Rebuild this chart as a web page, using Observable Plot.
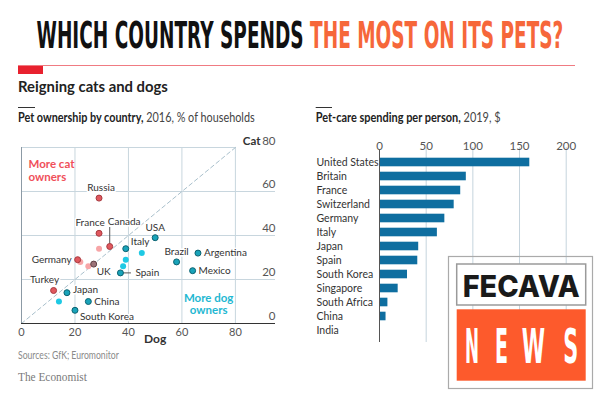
<!DOCTYPE html>
<html><head><meta charset="utf-8">
<script src="https://cdn.jsdelivr.net/npm/d3@7"></script>
<script src="https://cdn.jsdelivr.net/npm/@observablehq/plot@0.6"></script>
<style>
html,body{margin:0;padding:0;background:#fff;}
#root{position:relative;width:600px;height:400px;overflow:hidden;}
#root > svg{position:absolute;}
</style></head><body><div id="root"></div>
<script>
// ---------- DATA ----------
const scatterCountries = ["Russia","France","Canada","","Germany","","","UK","Turkey","Japan","","China","South Korea","Italy","","","Spain","","USA","Brazil","Argentina","Mexico"];
const dogShare = [29,29,33,29,21,22,25,27,12,17,14,25,20,39,39,38,37,45,50,58,66,64];
const catShare = [57,41,35,34,29,28,26,27,15,14,10,10,6,34,29,26,23,32,39,28,32,24];
const scatterGroup = ["cat","cat","cat","catLight","cat","catLight","catLight","even","cat","dog","dogLight","dog","dog","dog","dogLight","dogLight","dog","dogLight","dog","dog","dog","dog"];
const scatterXTicks = [0,20,40,60,80];
const scatterYTicks = [0,20,40,60];

const spendCountries = ["United States","Britain","France","Switzerland","Germany","Italy","Japan","Spain","South Korea","Singapore","South Africa","China","India"];
const spendValues = [161,93,87,80,70,62,42,41,30,20,9,7,0.5];
const spendTicks = [0,50,100,150,200];

// ---------- LAYOUT / STYLE ----------
const FONT = 'Lato,"Liberation Sans",sans-serif';
const labelLayout = {
  "Russia":{dx:2,dy:-10,anchor:"middle"},
  "France":{dx:-9,dy:-11,anchor:"middle"},
  "Canada":{dx:-2,dy:-25,anchor:"start"},
  "Germany":{dx:-6,dy:0,anchor:"end"},
  "UK":{dx:3,dy:8,anchor:"start"},
  "Turkey":{dx:-9,dy:-11,anchor:"middle"},
  "Japan":{dx:6,dy:-3,anchor:"start"},
  "China":{dx:6,dy:0,anchor:"start"},
  "South Korea":{dx:5,dy:6,anchor:"start"},
  "Italy":{dx:5,dy:-7,anchor:"start"},
  "Spain":{dx:15,dy:0,anchor:"start"},
  "USA":{dx:0,dy:-10,anchor:"middle"},
  "Brazil":{dx:0,dy:-10,anchor:"middle"},
  "Argentina":{dx:6,dy:0,anchor:"start"},
  "Mexico":{dx:6,dy:0,anchor:"start"}
};
const groupStyle = {
  catLight:{fill:"#f7a5a7",stroke:"none"},
  dogLight:{fill:"#1ec9e4",stroke:"none"},
  cat:{fill:"#e0585e",stroke:"#a73a40"},
  even:{fill:"#9b7379",stroke:"#5e4147"},
  dog:{fill:"#19a3b9",stroke:"#0b6271"}
};

const scatter = scatterCountries.map((name,i)=>({name, dog:dogShare[i], cat:catShare[i], group:scatterGroup[i]}));
const spend = spendCountries.map((country,i)=>({country, value:spendValues[i]}));

const root = document.getElementById("root");

// ---------- DECOR (titles, notes) ----------
const deco = d3.select(root).append("svg").attr("width",600).attr("height",400).style("left","0px").style("top","0px");
// draws text whose natural width is fitted to `len`, then stretched vertically back to the nominal size (condensed look)
function fitted(x,y,parts,o){
  const t = deco.append("text").attr("x",0).attr("y",0)
    .attr("font-family",o.family||FONT).attr("font-size",o.size);
  parts.forEach(p=>t.append("tspan").attr("fill",p.fill||"#222").attr("font-weight",p.weight||"normal").text(p.text));
  const natural = t.node().getComputedTextLength() || o.len;
  const f = Math.min(1, o.len/natural);
  t.attr("font-size",o.size*f).attr("transform",`translate(${x},${y}) scale(1,${1/f})`);
  return t;
}
fitted(36.5,48,[{text:"WHICH COUNTRY SPENDS ",fill:"#111",weight:"bold"},{text:"THE MOST ON ITS PETS?",fill:"#f6673a",weight:"bold"}],
  {family:'"DejaVu Sans",sans-serif',size:37,len:527});
deco.append("line").attr("x1",18).attr("x2",575).attr("y1",65.5).attr("y2",65.5).attr("stroke","#f07b82").attr("stroke-width",1);
deco.append("rect").attr("x",18).attr("y",66).attr("width",25).attr("height",8).attr("fill","#e8212e");
fitted(18,92,[{text:"Reigning cats and dogs",weight:"bold"}],{size:15,len:150});

deco.append("line").attr("x1",18).attr("x2",35).attr("y1",107.5).attr("y2",107.5).attr("stroke","#333");
fitted(18,122,[{text:"Pet ownership by country,",weight:"bold"},{text:" 2016, % of households",fill:"#444"}],{size:12.5,len:237});

deco.append("line").attr("x1",315.7).attr("x2",332).attr("y1",107.5).attr("y2",107.5).attr("stroke","#333");
fitted(315.7,122,[{text:"Pet-care spending per person,",weight:"bold"},{text:" 2019, $",fill:"#444"}],{size:12.5,len:185});

fitted(18,358.5,[{text:"Sources: GfK; Euromonitor",fill:"#8a8a8a"}],{size:11,len:101});
fitted(18,380.5,[{text:"The Economist",fill:"#7a7a7a"}],{family:'"Liberation Serif","DejaVu Serif",serif',size:12.5,len:69});

// ---------- LEFT: scatter ----------
const grid = "#c8d6de";
const labelMarks = scatter.filter(d=>d.name).map(d=>{
  const l = labelLayout[d.name];
  return Plot.text([d],{x:"dog",y:"cat",text:"name",dx:l.dx,dy:l.dy,textAnchor:l.anchor,fill:"#333",fontSize:10,stroke:"white",strokeWidth:3,paintOrder:"stroke"});
});
const dotMarks = ["catLight","dogLight","cat","even","dog"].map(g=>
  Plot.dot(scatter.filter(d=>d.group===g),{x:"dog",y:"cat",r:3,fill:groupStyle[g].fill,stroke:groupStyle[g].stroke,strokeWidth:1}));

const left = Plot.plot({
  width:290,height:220,marginLeft:21,marginRight:15,marginTop:17,marginBottom:27,
  x:{domain:[0,95],axis:null},
  y:{domain:[0,80],axis:null},
  style:{fontFamily:FONT,fontSize:"11px",color:"#333",background:"transparent",overflow:"visible"},
  marks:[
    Plot.ruleY(scatterYTicks.filter(t=>t>0),{x1:0,x2:95,stroke:grid}),
    Plot.ruleY([80],{x1:0,x2:80,stroke:grid}),
    Plot.ruleX(scatterXTicks.filter(t=>t>0),{y1:0,y2:80,stroke:grid}),
    Plot.ruleX([0],{y1:0,y2:80,stroke:"#8c9aa5"}),
    Plot.line([[0,0],[80,80]],{stroke:"#a9c0cc",strokeDasharray:"4,3",strokeWidth:1}),
    Plot.ruleY([0],{x1:0,x2:95,stroke:"#333"}),
    Plot.text(scatterXTicks,{x:d=>d,y:()=>0,dy:9,fill:"#555",fontSize:11}),
    Plot.text(["Dog"],{x:()=>50,y:()=>0,dy:15.5,fill:"#333",fontSize:12,fontWeight:"bold"}),
    Plot.text(scatterYTicks,{x:()=>95,y:d=>d,dy:-7,textAnchor:"end",fill:"#555",fontSize:11.5}),
    Plot.text(["80"],{x:()=>95,y:()=>80,dy:-6,textAnchor:"end",fill:"#555",fontSize:11.5}),
    Plot.text(["Cat"],{x:()=>95,y:()=>80,dx:-15,dy:-6,textAnchor:"end",fill:"#333",fontSize:11.5,fontWeight:"bold"}),
    Plot.ruleX(scatter.filter(d=>d.name==="Canada"),{x:"dog",y1:"cat",y2:"cat",insetTop:-19,stroke:"#555"}),
    Plot.ruleY(scatter.filter(d=>d.name==="Spain"),{y:"cat",x1:"dog",x2:"dog",insetRight:-11,stroke:"#555"}),
    ...labelMarks,
    ...dotMarks,
    Plot.text(["More cat"],{frameAnchor:"top-left",dx:7,dy:12.5,textAnchor:"start",fill:"#f0505a",fontSize:11.5,fontWeight:"bold"}),
    Plot.text(["owners"],{frameAnchor:"top-left",dx:7,dy:25,textAnchor:"start",fill:"#f0505a",fontSize:11.5,fontWeight:"bold"}),
    Plot.text(["More dog"],{x:()=>70,y:()=>8.6,dy:-6.5,fill:"#1fb8d2",fontSize:11.5,fontWeight:"bold"}),
    Plot.text(["owners"],{x:()=>70,y:()=>8.6,dy:6,fill:"#1fb8d2",fontSize:11.5,fontWeight:"bold"})
  ]
});
left.style.left="0px"; left.style.top="130px";
root.appendChild(left);

// ---------- RIGHT: bars ----------
const right = Plot.plot({
  width:300,height:230,marginLeft:79,marginRight:34.3,marginTop:22,marginBottom:20,
  x:{domain:[0,200],axis:null},
  y:{domain:spendCountries,axis:null,padding:0},
  style:{fontFamily:FONT,fontSize:"11px",color:"#333",background:"transparent",overflow:"visible"},
  marks:[
    Plot.ruleX(spendTicks.filter(t=>t>0),{stroke:"#c6d4dd",insetTop:-5,insetBottom:-2}),
    Plot.barX(spend,{x:"value",y:"country",fill:"#0e6ea0",insetTop:2.7,insetBottom:2.7}),
    Plot.ruleX([0],{stroke:"#555",insetTop:-2,insetBottom:-2}),
    Plot.text(spendTicks,{x:d=>d,frameAnchor:"top",dy:-11,fill:"#555",fontSize:11.5}),
    Plot.text(spend,{y:"country",text:"country",frameAnchor:"left",dx:-63,textAnchor:"start",fill:"#333",fontSize:10.5})
  ]
});
right.style.left="300px"; right.style.top="130px";
root.appendChild(right);

// ---------- LOGO ----------
const logo = d3.select(root).append("svg").attr("width",600).attr("height",400).style("left","0px").style("top","0px");
logo.append("rect").attr("x",448.5).attr("y",256.5).attr("width",144).attr("height",132).attr("fill","none").attr("stroke","#aaa").attr("stroke-width",1.2);
logo.append("rect").attr("x",456.7).attr("y",264).attr("width",129).attr("height",41).attr("fill","#fff").attr("stroke","#9a9a9a").attr("stroke-width",1.5);
logo.append("text").attr("transform","translate(462.7,296.7) scale(1,1.12)").attr("font-family",'Inter,"DejaVu Sans",sans-serif').attr("font-weight",800).attr("font-size",27).attr("fill","#1a1a1a").attr("textLength",117).attr("lengthAdjust","spacingAndGlyphs").text("FECAVA");
logo.append("rect").attr("x",456.7).attr("y",309.3).attr("width",129).attr("height",71.4).attr("fill","#fd5a2c");
[["N",465,14],["E",495,13],["W",521.7,23.3],["S",563.3,15]].forEach(([c,x,w])=>{
  logo.append("text").attr("transform",`translate(${x},363.3) scale(1,2.4)`).attr("font-family",'"DejaVu Sans",sans-serif').attr("font-weight","bold").attr("font-size",20).attr("fill","#fff").attr("textLength",w).attr("lengthAdjust","spacingAndGlyphs").text(c);
});
</script></body></html>
